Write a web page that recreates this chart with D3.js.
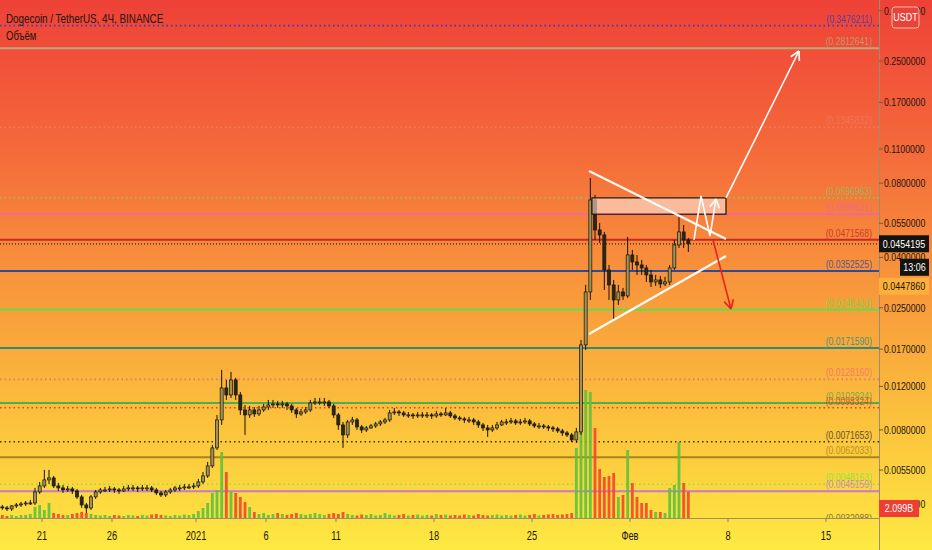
<!DOCTYPE html>
<html>
<head>
<meta charset="utf-8">
<script src="https://cdn.jsdelivr.net/npm/d3@7"></script>
<style>
  html, body { margin: 0; padding: 0; overflow: hidden; background: #fde941; }
</style>
</head>
<body>
<div id="chart"></div>
<script>
// DOGE/USDT, 8h candles (first bar: 18 Dec 2020)
const firstBar = '2020-12-18T00:00Z';
const barHours = 8;

const opens = [0.003900,0.003864,0.003828,0.003936,0.003973,0.004011,0.004048,0.004048,0.004485,0.004744,
  0.005017,0.005112,0.004744,0.004656,0.004570,0.004613,0.004528,0.004281,0.003973,0.003864,
  0.004281,0.004485,0.004570,0.004570,0.004613,0.004570,0.004528,0.004613,0.004656,0.004656,
  0.004613,0.004656,0.004656,0.004570,0.004444,0.004362,0.004485,0.004570,0.004656,0.004656,
  0.004700,0.004700,0.004744,0.004924,0.005208,0.005717,0.006763,0.008781,0.011836,0.011087,
  0.012753,0.011087,0.009640,0.009201,0.009640,0.009287,0.009640,0.009913,0.010100,0.010194,
  0.010100,0.010194,0.010006,0.009640,0.009287,0.009462,0.009640,0.010290,0.010386,0.010386,
  0.010386,0.010006,0.009201,0.008380,0.007634,0.008618,0.008781,0.008226,0.007999,0.008150,
  0.008303,0.008459,0.008618,0.008781,0.009374,0.009462,0.009374,0.009201,0.009201,0.009115,
  0.009201,0.009201,0.009201,0.009115,0.009287,0.009201,0.009374,0.009115,0.008947,0.008864,
  0.008781,0.008781,0.008618,0.008380,0.008150,0.007999,0.008150,0.008380,0.008618,0.008618,
  0.008699,0.008539,0.008618,0.008699,0.008459,0.008303,0.008303,0.008226,0.008150,0.008075,
  0.007925,0.007779,0.007634,0.007287,0.007851,0.017677,0.028982,0.068366,0.051678,0.049321,
  0.035584,0.030937,0.026898,0.028982,0.027922,0.040927,0.038340,0.037282,0.036254,0.033961,
  0.031815,0.032415,0.031229,0.031815,0.036254,0.044929,0.050722,0.047075];

const highs = [0.003973,0.003936,0.003973,0.004048,0.004086,0.004124,0.004163,0.004656,0.004924,0.005508,
  0.005508,0.005208,0.004879,0.004788,0.004744,0.004700,0.004613,0.004362,0.004048,0.004362,
  0.004570,0.004656,0.004700,0.004744,0.004700,0.004656,0.004744,0.004788,0.004788,0.004744,
  0.004788,0.004788,0.004744,0.004656,0.004528,0.004570,0.004656,0.004744,0.004788,0.004833,
  0.004833,0.004879,0.005064,0.005406,0.005935,0.006955,0.009201,0.014000,0.012753,0.013741,
  0.012994,0.011401,0.010100,0.010006,0.009913,0.010006,0.010194,0.010582,0.010582,0.010484,
  0.010484,0.010386,0.010194,0.009821,0.009730,0.009913,0.010582,0.010782,0.010782,0.010782,
  0.010582,0.010194,0.009374,0.008618,0.008781,0.009031,0.008947,0.008380,0.008303,0.008459,
  0.008618,0.008781,0.008947,0.009640,0.009821,0.009640,0.009550,0.009462,0.009374,0.009462,
  0.009462,0.009462,0.009374,0.009550,0.009462,0.009821,0.009550,0.009287,0.009115,0.009031,
  0.009031,0.008947,0.008781,0.008539,0.008380,0.008380,0.008618,0.008781,0.008864,0.008947,
  0.008864,0.008864,0.008947,0.008864,0.008618,0.008539,0.008459,0.008380,0.008303,0.008226,
  0.008075,0.007925,0.007779,0.008150,0.018521,0.030937,0.083940,0.071628,0.055164,0.050722,
  0.037282,0.032415,0.030937,0.030085,0.048412,0.042882,0.040927,0.039063,0.037282,0.035584,
  0.033961,0.033648,0.033335,0.037282,0.047075,0.058341,0.054143,0.047963];

const lows = [0.003793,0.003757,0.003757,0.003864,0.003900,0.003936,0.003973,0.003973,0.004403,0.004656,
  0.004833,0.004656,0.004528,0.004444,0.004485,0.004403,0.004202,0.003864,0.003688,0.003793,
  0.004202,0.004403,0.004485,0.004485,0.004444,0.004403,0.004485,0.004528,0.004528,0.004485,
  0.004528,0.004528,0.004485,0.004362,0.004281,0.004281,0.004403,0.004485,0.004528,0.004570,
  0.004613,0.004613,0.004656,0.004833,0.005112,0.005612,0.006638,0.008380,0.010582,0.010782,
  0.010582,0.009201,0.007634,0.008947,0.009031,0.009115,0.009462,0.009640,0.009821,0.009821,
  0.009821,0.009640,0.009374,0.008947,0.009115,0.009287,0.009462,0.010100,0.010100,0.010006,
  0.009821,0.008947,0.007999,0.006763,0.007424,0.008380,0.007999,0.007779,0.007851,0.008075,
  0.008150,0.008303,0.008459,0.008618,0.009201,0.009115,0.009031,0.008947,0.008864,0.008947,
  0.008947,0.008947,0.008864,0.008947,0.009031,0.009115,0.008947,0.008781,0.008699,0.008539,
  0.008539,0.008380,0.008150,0.007925,0.007493,0.007851,0.007999,0.008303,0.008380,0.008459,
  0.008380,0.008380,0.008459,0.008303,0.008150,0.008075,0.008075,0.007925,0.007851,0.007779,
  0.007564,0.007493,0.007152,0.007086,0.007634,0.016871,0.026898,0.047075,0.045777,0.029528,
  0.026898,0.022320,0.025672,0.026898,0.027405,0.035584,0.033961,0.033961,0.031815,0.030365,
  0.030652,0.030085,0.030652,0.030937,0.035584,0.043691,0.043691,0.042089];

const closes = [0.003864,0.003828,0.003936,0.003973,0.004011,0.004048,0.004048,0.004485,0.004744,0.005017,
  0.005112,0.004744,0.004656,0.004570,0.004613,0.004528,0.004281,0.003973,0.003864,0.004281,
  0.004485,0.004570,0.004570,0.004613,0.004570,0.004528,0.004613,0.004656,0.004656,0.004613,
  0.004656,0.004656,0.004570,0.004444,0.004362,0.004485,0.004570,0.004656,0.004656,0.004700,
  0.004700,0.004744,0.004924,0.005208,0.005717,0.006763,0.008781,0.011836,0.011087,0.012753,
  0.011087,0.009640,0.009201,0.009640,0.009287,0.009640,0.009913,0.010100,0.010194,0.010100,
  0.010194,0.010006,0.009640,0.009287,0.009462,0.009640,0.010290,0.010386,0.010386,0.010386,
  0.010006,0.009201,0.008380,0.007634,0.008618,0.008781,0.008226,0.007999,0.008150,0.008303,
  0.008459,0.008618,0.008781,0.009374,0.009462,0.009374,0.009201,0.009201,0.009115,0.009201,
  0.009201,0.009201,0.009115,0.009287,0.009201,0.009374,0.009115,0.008947,0.008864,0.008781,
  0.008781,0.008618,0.008380,0.008150,0.007999,0.008150,0.008380,0.008618,0.008618,0.008699,
  0.008539,0.008618,0.008699,0.008459,0.008303,0.008303,0.008226,0.008150,0.008075,0.007925,
  0.007779,0.007634,0.007287,0.007851,0.017677,0.028982,0.068366,0.051678,0.049321,0.035584,
  0.030937,0.026898,0.028982,0.027922,0.040927,0.038340,0.037282,0.036254,0.033961,0.031815,
  0.032415,0.031229,0.031815,0.036254,0.044929,0.050722,0.047075,0.0454195];

// volume, billions
const volumes = [0.24,0.16,0.24,0.16,0.24,0.24,0.32,0.88,1.04,0.64,
  1.2,0.4,0.32,0.24,0.24,0.32,0.4,0.48,0.4,0.32,
  0.24,0.2,0.24,0.16,0.24,0.2,0.16,0.24,0.2,0.16,
  0.24,0.2,0.28,0.32,0.24,0.2,0.16,0.24,0.2,0.28,
  0.24,0.32,0.56,0.8,1.2,2.0,2.24,5.28,3.68,2.08,
  2.0,1.68,1.28,0.88,0.48,0.32,0.4,0.24,0.32,0.4,
  0.32,0.24,0.32,0.4,0.32,0.24,0.32,0.4,0.32,0.24,
  0.32,0.4,0.32,0.48,0.32,0.24,0.2,0.28,0.24,0.32,
  0.2,0.24,0.4,0.28,0.2,0.24,0.32,0.2,0.24,0.28,
  0.2,0.24,0.2,0.32,0.24,0.28,0.2,0.24,0.2,0.28,
  0.24,0.2,0.32,0.24,0.2,0.24,0.28,0.2,0.24,0.2,
  0.24,0.28,0.2,0.24,0.32,0.2,0.24,0.28,0.32,0.24,
  0.28,0.32,0.4,5.6,8.08,10.24,10.08,7.2,3.92,3.28,
  3.36,3.6,1.68,1.84,5.44,2.8,1.68,1.2,1.2,0.64,
  0.48,0.48,0.4,2.4,2.64,6.08,2.8,2.099];

// horizontal levels drawn on the chart
const levelPrices = [0.3476211, 0.2812641, 0.1345832, 0.0696963, 0.0598631, 0.0471568, 0.0352525, 0.0245433,
  0.0171590, 0.0128160, 0.0102924, 0.0098324, 0.0071653, 0.0062033, 0.0048163, 0.0045159, 0.0032988];
const levelColors = ['#3d3db8', '#bba878', '#f07a62', '#92c25e', '#f0679a', '#c8282a', '#2d4b98', '#5fe04a',
  '#2c8c7e', '#f07272', '#4cae4c', '#e83a2a', '#3a3424', '#a8841e', '#7de83c', '#c27ad2', '#6a5a40'];
const levelDotted = [true, false, true, true, false, false, false, false,
  false, true, false, true, true, false, true, false, false];

// price axis and time axis
const priceTicks = [0.4, 0.25, 0.17, 0.11, 0.08, 0.055, 0.04, 0.025, 0.017, 0.012, 0.008, 0.0055, 0.004];
const dateTicks = ['2020-12-21', '2020-12-26', '2021-01-01', '2021-01-06', '2021-01-11', '2021-01-18',
  '2021-01-25', '2021-02-01', '2021-02-08', '2021-02-15'];
const dateLabels = ['21', '26', '2021', '6', '11', '18', '25', 'Фев', '8', '15'];

// drawings: [time, price]
const triUpper = [['2021-01-29T01:40Z', 0.0896], ['2021-02-07T20:34Z', 0.04752]];
const triLower = [['2021-01-29T01:40Z', 0.01959], ['2021-02-07T20:34Z', 0.04055]];
const zoneBox = [['2021-01-29T06:50Z', 0.0696963], ['2021-02-07T20:34Z', 0.0598631]];
const zigzag = [['2021-02-05T13:43Z', 0.04708], ['2021-02-06T01:43Z', 0.07096], ['2021-02-06T17:09Z', 0.04887], ['2021-02-07T03:26Z', 0.06901]];
const bullArrow = [['2021-02-07T20:34Z', 0.06966], ['2021-02-13T01:42Z', 0.2744]];
const bearArrow = [['2021-02-06T22:17Z', 0.04708], ['2021-02-08T05:08Z', 0.02473]];

const title = 'Dogecoin / TetherUS, 4Ч, BINANCE';
const volTitle = 'Объём';
const countdown = '13:06';
const otherPrice = '0.0447860';

// ---------------------------------------------------------------
const W = 932, H = 550;
const paneW = 879, paneH = 518;
const dayPx = 14;
const barMs = barHours * 3600e3;
const t0 = new Date(firstBar).getTime();

const x = d3.scaleUtc()
  .domain([new Date(t0), new Date(t0 + (paneW / dayPx) * 864e5)])
  .range([0, paneW]);
const y = d3.scaleLog().domain([0.4416, 0.003517]).range([0, paneH]);
const yVol = d3.scaleLinear().domain([0, d3.max(volumes)]).range([paneH, paneH - 128]);

const pt = (d) => [x(new Date(d[0])), y(d[1])];
const barX = (i) => x(new Date(t0 + i * barMs + barMs / 2));
const fmt7 = d3.format('.7f');

// chart font is narrow: squeeze each text around its anchor x
function squeeze(sel, k) {
  sel.each(function () {
    const ax = +this.getAttribute('x');
    d3.select(this).attr('transform', `translate(${ax},0) scale(${k},1) translate(${-ax},0)`);
  });
}

const svg = d3.select('#chart').append('svg')
  .attr('width', W).attr('height', H)
  .style('font-family', '"Liberation Sans", Arial, sans-serif');

const defs = svg.append('defs');
const grad = defs.append('linearGradient').attr('id', 'bg')
  .attr('x1', 0).attr('y1', 0).attr('x2', 0).attr('y2', 1);
[['0%', '#ee4137'], ['25%', '#f4663a'], ['50%', '#f8933b'], ['75%', '#fbbf3c'], ['100%', '#fee942']]
  .forEach((s) => grad.append('stop').attr('offset', s[0]).attr('stop-color', s[1]));
defs.append('clipPath').attr('id', 'pane')
  .append('rect').attr('width', paneW).attr('height', paneH);

svg.append('rect').attr('width', W).attr('height', H).attr('fill', 'url(#bg)');

const pane = svg.append('g').attr('clip-path', 'url(#pane)');

// levels
levelPrices.forEach((p, i) => {
  pane.append('line')
    .attr('x1', 0).attr('x2', paneW)
    .attr('y1', y(p)).attr('y2', y(p))
    .attr('stroke', levelColors[i])
    .attr('stroke-width', levelDotted[i] ? 1.6 : 2)
    .attr('stroke-dasharray', levelDotted[i] ? '1.5,3' : null);
});
const lvlLabels = pane.selectAll('text.lvl').data(levelPrices).enter().append('text')
  .attr('class', 'lvl')
  .attr('x', 872).attr('y', (d) => y(d) - 3)
  .attr('text-anchor', 'end')
  .attr('font-size', 10)
  .attr('fill', (d, i) => levelColors[i])
  .attr('opacity', 0.8)
  .text((d) => '(' + fmt7(d) + ')');
squeeze(lvlLabels, 0.86);

// last price line
const lastClose = closes[closes.length - 1];
pane.append('line')
  .attr('x1', 0).attr('x2', paneW)
  .attr('y1', y(lastClose)).attr('y2', y(lastClose))
  .attr('stroke', '#2a2418').attr('stroke-width', 1.2)
  .attr('stroke-dasharray', '1,2');

// volume
pane.selectAll('rect.vol').data(volumes).enter().append('rect')
  .attr('class', 'vol')
  .attr('x', (d, i) => barX(i) - 1.4)
  .attr('width', 2.8)
  .attr('y', (d) => yVol(d))
  .attr('height', (d) => paneH - yVol(d))
  .attr('fill', (d, i) => (closes[i] >= opens[i] ? '#5cc23e' : '#f2482c'))
  .attr('opacity', 0.9);

// candles
const candles = pane.append('g');
closes.forEach((c, i) => {
  const o = opens[i];
  const cx = barX(i);
  candles.append('line')
    .attr('x1', cx).attr('x2', cx)
    .attr('y1', y(highs[i])).attr('y2', y(lows[i]))
    .attr('stroke', '#15130c').attr('stroke-width', 1);
  const top = y(Math.max(o, c));
  const h = Math.max(1, Math.abs(y(o) - y(c)));
  candles.append('rect')
    .attr('x', cx - 1.5).attr('width', 3)
    .attr('y', top).attr('height', h)
    .attr('fill', c >= o ? '#a29258' : '#2c2817')
    .attr('stroke', '#15130c').attr('stroke-width', 0.7);
});

// drawings
const draw = pane.append('g').attr('fill', 'none');
const bx0 = pt(zoneBox[0]), bx1 = pt(zoneBox[1]);
draw.append('rect')
  .attr('x', bx0[0]).attr('y', bx0[1])
  .attr('width', bx1[0] - bx0[0]).attr('height', bx1[1] - bx0[1])
  .attr('fill', 'rgba(255,228,220,0.6)')
  .attr('stroke', '#1c1408').attr('stroke-width', 1.2);

[triUpper, triLower].forEach((seg) => {
  draw.append('line')
    .attr('x1', pt(seg[0])[0]).attr('y1', pt(seg[0])[1])
    .attr('x2', pt(seg[1])[0]).attr('y2', pt(seg[1])[1])
    .attr('stroke', '#ffffff').attr('stroke-width', 2.2).attr('opacity', 0.95);
});

function arrowPath(points, color, width) {
  const px = points.map(pt);
  draw.append('path')
    .attr('d', d3.line()(px))
    .attr('stroke', color).attr('stroke-width', width)
    .attr('stroke-linejoin', 'miter');
  const a = px[px.length - 2], b = px[px.length - 1];
  const ang = Math.atan2(b[1] - a[1], b[0] - a[0]);
  const len = 10;
  [-0.5, 0.5].forEach((da) => {
    draw.append('line')
      .attr('x1', b[0]).attr('y1', b[1])
      .attr('x2', b[0] - len * Math.cos(ang + da)).attr('y2', b[1] - len * Math.sin(ang + da))
      .attr('stroke', color).attr('stroke-width', width);
  });
}
arrowPath(zigzag, '#ffffff', 1.6);
arrowPath(bullArrow, '#ffffff', 1.6);
arrowPath(bearArrow, '#e8241c', 1.6);

// axes lines
svg.append('line').attr('x1', paneW + 0.5).attr('x2', paneW + 0.5).attr('y1', 0).attr('y2', H)
  .attr('stroke', '#9b8d74').attr('stroke-width', 1);
svg.append('line').attr('x1', 0).attr('x2', paneW).attr('y1', paneH + 0.5).attr('y2', paneH + 0.5)
  .attr('stroke', '#9b8d74').attr('stroke-width', 1);

// price ticks
const pAxis = svg.append('g');
priceTicks.forEach((p) => {
  pAxis.append('line').attr('x1', paneW).attr('x2', paneW + 4)
    .attr('y1', y(p)).attr('y2', y(p)).attr('stroke', '#6b5f4a');
});
const pLabels = pAxis.selectAll('text').data(priceTicks).enter().append('text')
  .attr('x', 884).attr('y', (d) => y(d) + 4)
  .attr('font-size', 11.5).attr('fill', '#1b1710')
  .text((d) => fmt7(d));
squeeze(pLabels, 0.76);

// date ticks
const tAxis = svg.append('g');
dateTicks.forEach((d, i) => {
  const tx = x(new Date(d + 'T00:00Z'));
  tAxis.append('line').attr('x1', tx).attr('x2', tx).attr('y1', paneH).attr('y2', paneH + 4)
    .attr('stroke', '#8b7f66');
  const t = tAxis.append('text').attr('x', tx).attr('y', 540)
    .attr('text-anchor', 'middle').attr('font-size', 12.5).attr('fill', '#1b1710')
    .text(dateLabels[i]);
  squeeze(t, 0.74);
});

// axis badges
function badge(x0, y0, w, h, fill, txt, color, stroke) {
  svg.append('rect').attr('x', x0).attr('y', y0).attr('width', w).attr('height', h)
    .attr('fill', fill).attr('rx', stroke ? 3 : 0)
    .attr('stroke', stroke || 'none').attr('stroke-width', 1);
  const t = svg.append('text').attr('x', x0 + w / 2).attr('y', y0 + h / 2 + 4)
    .attr('text-anchor', 'middle').attr('font-size', 11.5).attr('fill', color)
    .text(txt);
  squeeze(t, 0.78);
}
badge(892, 7, 27, 21, '#e8433a', 'USDT', '#ffffff', '#f6b9a8');
badge(paneW, y(lastClose) - 8.5, 50, 17, '#131310', fmt7(lastClose), '#ffffff');
badge(900, y(lastClose) + 15, 29, 17, '#131310', countdown, '#ffffff');
badge(paneW, y(lastClose) + 34, 50, 17, '#fdb03a', otherPrice, '#1b1710');
badge(paneW, 500, 40, 17, '#ef3d33', volumes[volumes.length - 1].toFixed(3) + 'B', '#ffffff');

// titles
const t1 = svg.append('text').attr('x', 6).attr('y', 23)
  .attr('font-size', 13.5).attr('fill', '#1a1510').text(title);
squeeze(t1, 0.73);
const t2 = svg.append('text').attr('x', 6).attr('y', 40)
  .attr('font-size', 12.5).attr('fill', '#1a1510').text(volTitle);
squeeze(t2, 0.76);
</script>
</body>
</html>
